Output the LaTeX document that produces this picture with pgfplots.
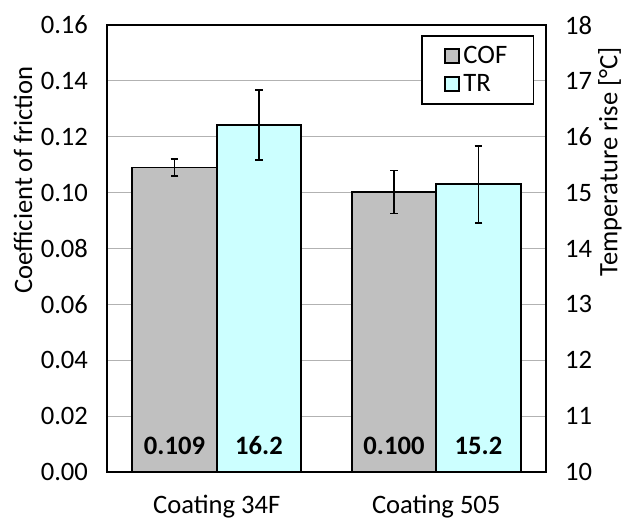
\documentclass[border=0pt]{standalone}
\usepackage{pgfplots}
\pgfplotsset{compat=1.18}
\usetikzlibrary{calc}
\usepackage{fontspec}
\setmainfont{Carlito}
\definecolor{cofgray}{HTML}{C0C0C0}
\definecolor{trcyan}{HTML}{CCFFFF}
\tikzset{vlabel/.style={font=\fontsize{13.3bp}{16bp}\selectfont\bfseries, anchor=base}}
\begin{document}
\begin{tikzpicture}
\pgfplotsset{
  base/.style={
    scale only axis, width=219.5bp, height=223.5bp,
    at={(0,0)}, anchor=south west,
    xmin=-0.5, xmax=1.5,
    font=\fontsize{13.3bp}{16bp}\selectfont,
    /pgf/number format/assume math mode=true,
    bar width=0.385,
    axis line style={line width=1bp, black},
  },
  barstyle/.style={draw=black, line width=0.8bp},
  ebar/.style={error bars/.cd, y dir=both, y explicit,
    error bar style={line width=0.9bp, black},
    error mark options={rotate=90, mark size=1.9bp, line width=0.9bp, black}},
}
\begin{axis}[base,
  ymin=0, ymax=0.16,
  ytick={0,0.02,0.04,0.06,0.08,0.10,0.12,0.14,0.16},
  yticklabel style={/pgf/number format/fixed, /pgf/number format/fixed zerofill, /pgf/number format/precision=2, xshift=-6bp},
  ymajorgrids, grid style={gray!60, line width=0.5bp},
  xtick={0,1}, xticklabels={Coating 34F, Coating 505},
  xticklabel style={yshift=-8bp},
  ytick pos=left, major tick length=0,
  ylabel={Coefficient of friction},
  ylabel style={at={($(rel axis cs:0,0.653)+(-42bp,0)$)}, anchor=center},
]
\addplot[ybar, bar shift=0, fill=cofgray, barstyle, ebar]
  coordinates {(-0.1925,0.109) +- (0,0.003) (0.8075,0.1002) +- (0,0.0077)};
\node[vlabel] at (axis cs:-0.1925,0.0061) {0.109};
\node[vlabel] at (axis cs:0.8075,0.0061) {0.100};
\end{axis}
\begin{axis}[base,
  ymin=10, ymax=18,
  ytick={10,11,12,13,14,15,16,17,18},
  axis x line=none, axis y line*=right,
  yticklabel style={xshift=6bp},
  major tick length=0,
  ylabel={Temperature rise [°C]},
  ylabel style={at={($(rel axis cs:1,0.694)+(32bp,0)$)}, anchor=center, rotate=0},
  legend style={at={(rel axis cs:0.9727,0.9776)}, anchor=north east,
    draw=black, line width=0.75bp, inner xsep=11bp, inner ysep=3bp,
    font=\fontsize{13.3bp}{16bp}\selectfont, row sep=0bp},
  legend cell align=left,
  legend image code/.code={\draw[#1, draw=black, line width=0.75bp] (0bp,-3.5bp) rectangle (7bp,3.5bp);},
]
\addlegendimage{fill=cofgray, draw=black}
\addlegendentry{COF}
\addplot[ybar, bar shift=0, fill=trcyan, barstyle, ebar]
  coordinates {(0.1925,16.21) +- (0,0.63) (1.1925,15.15) +- (0,0.69)};
\addlegendentry{TR}
\node[vlabel] at (axis cs:0.1925,10.305) {16.2};
\node[vlabel] at (axis cs:1.1925,10.305) {15.2};
\end{axis}
\pgfresetboundingbox
\path[use as bounding box] (-53.5bp,-24bp) rectangle (257.5bp,236bp);
\end{tikzpicture}
\end{document}
